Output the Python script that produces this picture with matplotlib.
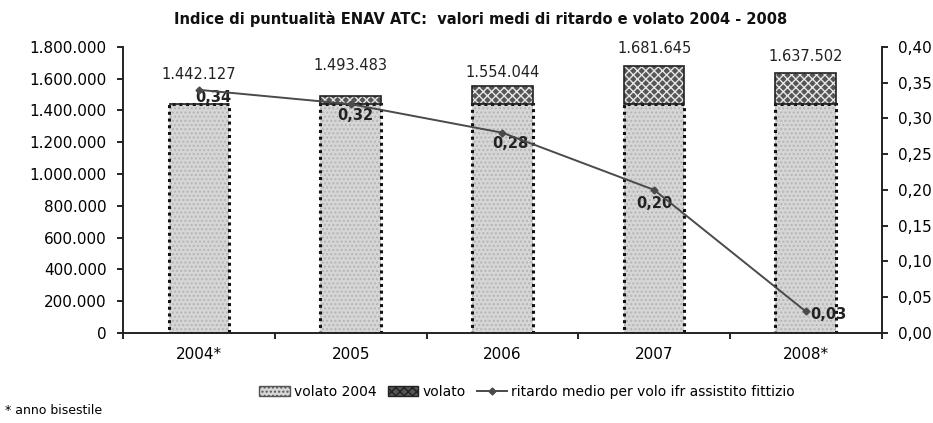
import numpy as np
import matplotlib.pyplot as plt
from matplotlib.patches import Patch
from matplotlib.lines import Line2D

# data
anni = ["2004*", "2005", "2006", "2007", "2008*"]
volato_2004 = [1442127, 1442127, 1442127, 1442127, 1442127]
volato = [1442127, 1493483, 1554044, 1681645, 1637502]
ritardo = [0.34, 0.32, 0.28, 0.20, 0.03]

plt.rcParams['font.family'] = ['DejaVu Sans']
plt.rcParams['hatch.linewidth'] = 1.0

fig = plt.figure(figsize=(9.33, 4.23), dpi=100)
ax = fig.add_axes([0.132, 0.213, 0.813, 0.676])
ax2 = ax.twinx()

x = np.arange(len(anni))
w = 0.40
extra = [v - b for v, b in zip(volato, volato_2004)]

# base bars (volato 2004)
ax.bar(x, volato_2004, w, color="#d6d6d6", hatch="....", edgecolor="#b5b5b5", linewidth=0, zorder=2)
ax.bar(x, volato_2004, w, fill=False, edgecolor="#111111", linestyle=(0, (1, 1.2)), linewidth=2.2, zorder=3)
# extra bars (volato)
ax.bar(x, extra, w, bottom=volato_2004, color="#555555", hatch="xxxx", edgecolor="#e6e6e6", linewidth=0, zorder=2)
ax.bar(x, extra, w, bottom=volato_2004, fill=False, edgecolor="#222222", linewidth=1.2, zorder=3)

# total labels
lab_off = [16, 16, 4, 7, 6.5]
for i, v in enumerate(volato):
    ax.annotate(f"{v:,}".replace(",", "."), (x[i], v), xytext=(0, lab_off[i]), textcoords="offset points",
                ha="center", va="bottom", fontsize=10.5, color="#222222")

yt = np.arange(0, 1800001, 200000)
ax.set_ylim(0, 1800000)
ax.set_yticks(yt)
ax.set_yticklabels([f"{int(t):,}".replace(",", ".") for t in yt], fontsize=11)
ax.set_xlim(-0.5, len(anni) - 0.5)
ax.set_xticks(x)
ax.set_xticklabels(anni, fontsize=11)
ax.set_xticks(np.arange(-0.5, len(anni)), minor=True)
ax.tick_params(axis="x", which="major", length=0, pad=10)
ax.tick_params(axis="x", which="minor", direction="out", length=4, width=1.2)
ax.tick_params(axis="y", direction="out", length=4, width=1.2, pad=8)

# line
ax2.plot(x, ritardo, color="#4a4a4a", linewidth=1.4, marker="D", markersize=3.5, zorder=5)
ax2.set_ylim(0, 0.40)
rt = np.arange(0, 0.401, 0.05)
ax2.set_yticks(rt)
ax2.set_yticklabels([f"{t:.2f}".replace(".", ",") for t in rt], fontsize=11)
ax2.tick_params(axis="y", direction="out", length=4, width=1.2, pad=8)
offs = [(10, -5.5), (3, -8), (6, -8), (0, -10), (16, -2)]
for i, r in enumerate(ritardo):
    ax2.annotate(f"{r:.2f}".replace(".", ","), (x[i], r), xytext=offs[i], textcoords="offset points",
                 ha="center", va="center", fontsize=10.5, fontweight="bold", color="#222222")

for a in (ax, ax2):
    a.spines["top"].set_visible(False)
    for s in ("left", "right", "bottom"):
        a.spines[s].set_linewidth(1.2)
        a.spines[s].set_color("#222222")

fig.text(0.515, 0.955, "Indice di puntualità ENAV ATC:  valori medi di ritardo e volato 2004 - 2008",
         ha="center", va="center", fontsize=10.5, fontweight="bold", color="#111111")

# legend
handles = [Patch(facecolor="#d6d6d6", hatch="....", edgecolor="#555555"),
           Patch(facecolor="#555555", hatch="xxxx", edgecolor="#222222"),
           Line2D([0], [0], color="#4a4a4a", linewidth=1.4, marker="D", markersize=3.5)]
labels = ["volato 2004", "volato", "ritardo medio per volo ifr assistito fittizio"]
fig.legend(handles, labels, loc="center", bbox_to_anchor=(0.565, 0.073), ncol=3, frameon=False,
           fontsize=10, handlelength=2.2, handletextpad=0.3, columnspacing=0.8)

fig.text(0.005, 0.03, "* anno bisestile", ha="left", va="center", fontsize=9)

fig.savefig("out.png", dpi=100)
